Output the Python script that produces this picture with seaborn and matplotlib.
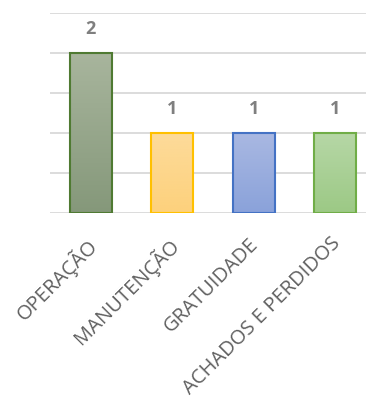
import numpy as np
import pandas as pd
import matplotlib
matplotlib.use("Agg")
import matplotlib.pyplot as plt
import matplotlib.transforms as mtransforms
from matplotlib.colors import LinearSegmentedColormap
import seaborn as sns

categories = ["OPERAÇÃO", "MANUTENÇÃO", "GRATUIDADE", "ACHADOS E PERDIDOS"]
values = [2, 1, 1, 1]
top_colors = ["#a8b59d", "#fddb9a", "#a9b8e2", "#b6d7a6"]
bottom_colors = ["#85987a", "#fdd17c", "#8aa2da", "#9cc985"]
edge_colors = ["#4f7a32", "#ffc000", "#4472c4", "#70ad47"]

sns.set_theme(style="white")
plt.rcParams["font.family"] = ["Open Sans", "DejaVu Sans"]

df = pd.DataFrame({"categoria": categories, "total": values})

fig = plt.figure(figsize=(3.66, 3.96), dpi=100)
ax = fig.add_axes([50 / 366, 1 - 213 / 396, 326 / 366, 200 / 396])

sns.barplot(data=df, x="categoria", y="total", ax=ax, width=0.515,
            color="white", saturation=1, zorder=3)

ax.set_ylim(0, 2.5)
ax.set_yticks([0, 0.5, 1.0, 1.5, 2.0, 2.5])
ax.yaxis.grid(True, color="#d9d9d9", linewidth=1.3, zorder=0)
ax.set_axisbelow(True)
for s in ax.spines.values():
    s.set_visible(False)
ax.tick_params(axis="y", left=False, labelleft=False)
ax.set_xlabel("")
ax.set_ylabel("")

# vertical gradient fill for each bar, clipped to its rectangle
grad = np.linspace(0, 1, 256).reshape(-1, 1)
for patch, c0, c1, ec, v in zip(ax.patches, top_colors, bottom_colors, edge_colors, values):
    x0 = patch.get_x()
    w = patch.get_width()
    h = patch.get_height()
    cmap = LinearSegmentedColormap.from_list("g", [c0, c1])
    im = ax.imshow(grad, cmap=cmap, aspect="auto", origin="upper",
                   extent=(x0, x0 + w, 0, h), zorder=3)
    im.set_clip_path(patch)
    patch.set_facecolor("none")
    patch.set_edgecolor(ec)
    patch.set_linewidth(1.5)
    patch.set_zorder(4)
    ax.text(x0 + w / 2, h + 0.3, str(v), ha="center", va="center",
            fontsize=13, fontweight="bold", color="#7f7f7f")

ax.set_xlim(-0.5, 3.5)
ax.set_xticks(range(len(categories)))
ax.set_xticklabels(categories, rotation=45, ha="right", rotation_mode="anchor",
                   fontsize=14.5, color="#606060")
ax.tick_params(axis="x", bottom=False, pad=9)
shift = mtransforms.ScaledTranslation(-5 / 100, 0, fig.dpi_scale_trans)
for lbl in ax.get_xticklabels():
    lbl.set_transform(lbl.get_transform() + shift)

fig.savefig("out.png", dpi=100)
